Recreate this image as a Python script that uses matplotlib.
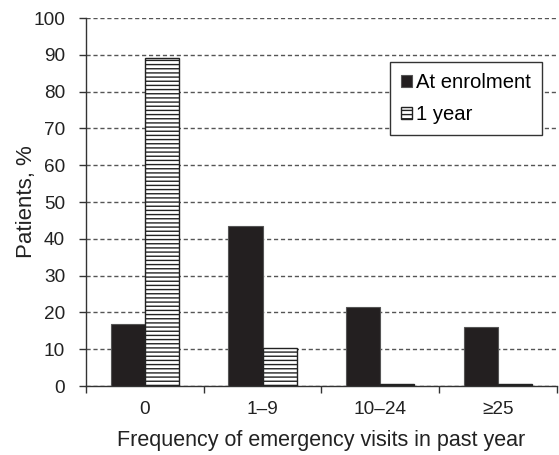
import numpy as np
import matplotlib.pyplot as plt

# data
categories = ['0', '1\u20139', '10\u201324', '\u226525']
enrolment = [16.8, 43.6, 21.4, 16.1]
one_year = [89.0, 10.2, 0.5, 0.5]
y_ticks = [0, 10, 20, 30, 40, 50, 60, 70, 80, 90, 100]

plt.rcParams['font.family'] = ['Liberation Sans', 'DejaVu Sans']
plt.rcParams['hatch.linewidth'] = 1.0

fig = plt.figure(figsize = (5.59, 4.55), dpi = 100)
ax = fig.add_axes([0.1538, 0.1516, 0.8425, 0.8088])

x = np.arange(len(categories)) + 0.5
w = 0.29
ax.bar(x - w / 2, enrolment, w, color = '#231f20', edgecolor = '#555555',
       linewidth = 0.8, zorder = 3, label = 'At enrolment')
ax.bar(x + w / 2, one_year, w, color = 'white', edgecolor = '#222222',
       hatch = '----', linewidth = 1.0, zorder = 3, label = '1 year')

ax.set_xlim(0, len(categories))
ax.set_ylim(0, 100)
ax.set_yticks(y_ticks)
ax.set_xticks(np.arange(len(categories) + 1))
ax.set_xticklabels([])
ax.set_xticks(x, minor = True)
ax.set_xticklabels(categories, minor = True)
ax.tick_params(axis = 'x', which = 'minor', length = 0, pad = 10.5,
               labelsize = 13.7, colors = '#222222')
ax.tick_params(axis = 'x', which = 'major', direction = 'out', length = 5,
               width = 1, color = '#333333')
ax.tick_params(axis = 'y', direction = 'out', length = 5, width = 1, pad = 10,
               labelsize = 13.7, color = '#333333', labelcolor = '#222222')

for s in ['top', 'right']:
    ax.spines[s].set_visible(False)
for s in ['left', 'bottom']:
    ax.spines[s].set_color('#333333')
    ax.spines[s].set_linewidth(1.0)

ax.yaxis.grid(True, linestyle = (0, (3, 2)), color = '#555555',
              linewidth = 1.0, zorder = 0)
ax.set_axisbelow(True)

ax.set_ylabel('Patients, %', fontsize = 16, color = '#222222', labelpad = -3)
ax.set_xlabel('Frequency of emergency visits in past year', fontsize = 15.5,
              color = '#222222', labelpad = 9)

leg = ax.legend(loc = 'upper right', bbox_to_anchor = (542 / 559, 393 / 455),
                bbox_transform = fig.transFigure, borderaxespad = 0,
                fontsize = 14.6, handlelength = 0.55, handleheight = 0.55,
                handletextpad = 0.2, borderpad = 0.55, labelspacing = 0.65,
                fancybox = False, framealpha = 1, edgecolor = '#333333')
leg.get_frame().set_linewidth(1.0)

fig.savefig('out.png', dpi = 100)
